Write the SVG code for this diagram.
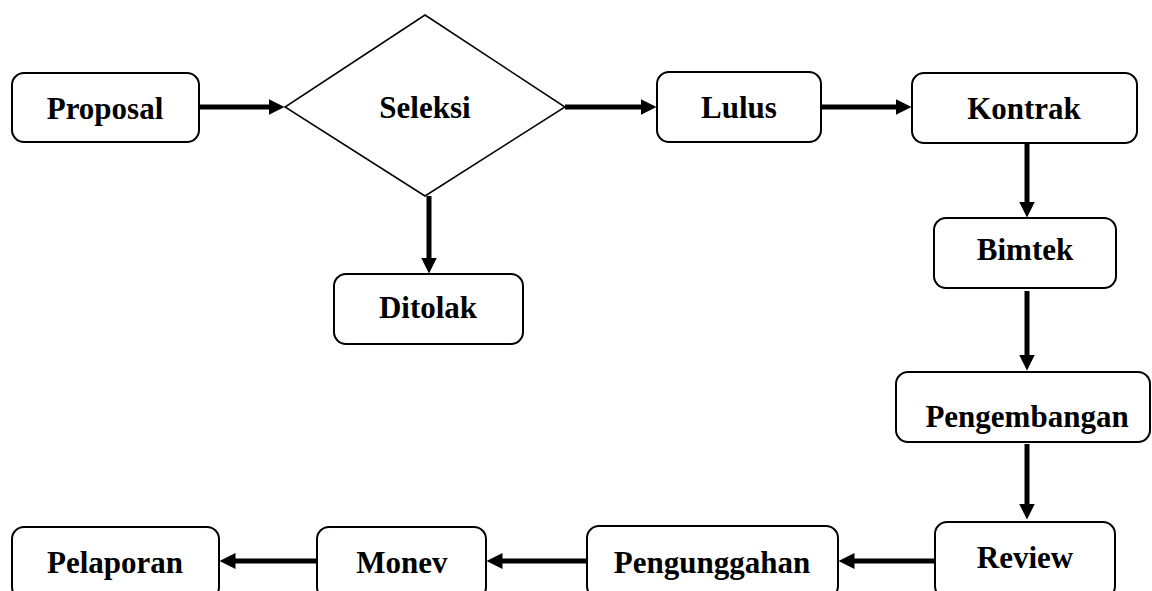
<svg xmlns="http://www.w3.org/2000/svg" width="1152" height="591" viewBox="0 0 1152 591">
<defs>
<marker id="ah" viewBox="0 0 16 16" refX="0.5" refY="8" markerWidth="16" markerHeight="16" markerUnits="userSpaceOnUse" orient="auto">
<path d="M0,0 L16,8 L0,16 z" fill="#000"/>
</marker>
<style>
.box{fill:#fff;stroke:#000;stroke-width:2}
.dia{fill:#fff;stroke:#000;stroke-width:1.5}
.lbl{font-family:"Liberation Serif","Times New Roman",serif;font-weight:bold;font-size:31px;fill:#000;text-anchor:middle}
.con{fill:none;stroke:#000;stroke-width:5;marker-end:url(#ah)}
</style>
</defs>
<rect width="1152" height="591" fill="#fff"/>
<g id="connectors">
<path class="con" d="M199,107 L269,107"/>
<path class="con" d="M565,107 L641,107"/>
<path class="con" d="M821,107 L896,107"/>
<path class="con" d="M429,196 L429,258"/>
<path class="con" d="M1027,144 L1027,202"/>
<path class="con" d="M1027,291 L1027,355"/>
<path class="con" d="M1027,444 L1027,504"/>
<path class="con" d="M935,561 L854,561"/>
<path class="con" d="M587,561 L502,561"/>
<path class="con" d="M317,561 L235,561"/>
</g>
<g id="proposal"><rect class="box" x="12" y="73" width="187" height="69" rx="12"/><text class="lbl" x="105" y="119">Proposal</text></g>
<g id="seleksi"><polygon class="dia" points="425,15 565,107 425,196 285,107"/><text class="lbl" x="425" y="118">Seleksi</text></g>
<g id="lulus"><rect class="box" x="657" y="72" width="164" height="70" rx="12"/><text class="lbl" x="739" y="118">Lulus</text></g>
<g id="kontrak"><rect class="box" x="912" y="73" width="225" height="70" rx="12"/><text class="lbl" x="1024" y="119">Kontrak</text></g>
<g id="ditolak"><rect class="box" x="334" y="274" width="189" height="70" rx="12"/><text class="lbl" x="428" y="318">Ditolak</text></g>
<g id="bimtek"><rect class="box" x="934" y="218" width="182" height="70" rx="12"/><text class="lbl" x="1025" y="260">Bimtek</text></g>
<g id="pengembangan"><rect class="box" x="896" y="372" width="254" height="70" rx="12"/><text class="lbl" x="1027" y="427">Pengembangan</text></g>
<g id="review"><rect class="box" x="935" y="522" width="180" height="76" rx="12"/><text class="lbl" x="1025" y="568">Review</text></g>
<g id="pengunggahan"><rect class="box" x="587" y="526" width="251" height="72" rx="12"/><text class="lbl" x="712" y="573">Pengunggahan</text></g>
<g id="monev"><rect class="box" x="317" y="527" width="169" height="72" rx="12"/><text class="lbl" x="402" y="573">Monev</text></g>
<g id="pelaporan"><rect class="box" x="12" y="527" width="207" height="72" rx="12"/><text class="lbl" x="115" y="573">Pelaporan</text></g>
</svg>
